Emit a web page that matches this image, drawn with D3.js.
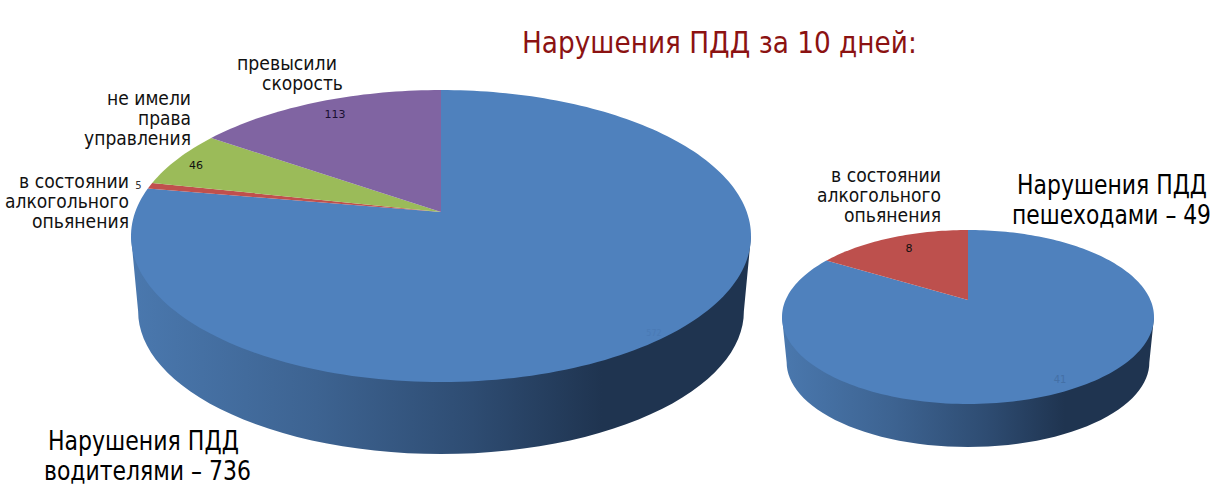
<!DOCTYPE html>
<html><head><meta charset="utf-8">
<script src="https://cdn.jsdelivr.net/npm/d3@7/dist/d3.min.js"></script>
<style>html,body{margin:0;background:#fff}svg{display:block}text{font-family:"DejaVu Sans",sans-serif}</style>
</head><body><svg id="c" width="1230" height="498"></svg>
<script>
const driverCategories=["водители прочие","в состоянии алкогольного опьянения","не имели права управления","превысили скорость"];
const driverValues=[572,5,46,113];
const pedestrianCategories=["пешеходы прочие","в состоянии алкогольного опьянения"];
const pedestrianValues=[41,8];
const sliceColors=["#4f81bd","#c0504d","#9bbb59","#8064a2"];
const pedestrianColors=["#4f81bd","#bd504d"];

const svg=d3.select("#c");
const defs=svg.append("defs");
const line=d3.line();

function drawPie(o){
  const k=(o.bottom-o.top-2*(o.apexY-o.top))/(o.bottom-o.top);
  const S=(o.apexY-o.top)*(1+k), R=o.halfW*Math.sqrt(1-k*k);
  const project=a=>{
    const u=Math.sin(a),v=Math.cos(a),w=1+k*v;
    return [o.cx+R*u/w, o.apexY-S*v/w];
  };
  const midY=o.apexY+S*k/(1-k*k);
  const widest=Math.acos(-k);
  const f=o.sideScale;
  const shift=o.sideBottom-(midY+f*(o.bottom-midY));
  const toBase=([x,y])=>[o.cx+f*(x-o.cx), midY+f*(y-midY)+shift];
  const sweep=d3.range(0,61).map(i=>widest+(2*Math.PI-2*widest)*i/60);
  const pts=[project(widest),...sweep.map(a=>toBase(project(a))),project(-widest)];
  const id="g"+o.id;
  const g=defs.append("linearGradient").attr("id",id).attr("gradientUnits","userSpaceOnUse")
    .attr("x1",o.cx-o.halfW).attr("x2",o.cx+o.halfW).attr("y1",0).attr("y2",0);
  [[0,"#4a78ae"],[0.3,"#3d6391"],[0.55,"#2e4c72"],[0.76,"#1f3450"],[1,"#1f3450"]]
    .forEach(([p,c])=>g.append("stop").attr("offset",p).attr("stop-color",c));
  svg.append("path").attr("d",line(pts)+"Z").attr("fill",`url(#${id})`);
  const pie=d3.pie().sort(null).value(d=>d);
  pie(o.values).forEach((s,i)=>{
    const n=Math.max(2,Math.ceil((s.endAngle-s.startAngle)*40));
    const rim=d3.range(n+1).map(j=>project(s.startAngle+(s.endAngle-s.startAngle)*j/n));
    svg.append("path").attr("d",line([[o.cx,o.apexY],...rim])+"Z").attr("fill",o.colors[i]);
  });
}
const T=(s,x,y,size,anchor,fill,len)=>{
  const t=svg.append("text").attr("font-size",size).attr("text-anchor",anchor).attr("fill",fill||"#000").text(s);
  const sx=len?len/t.node().getComputedTextLength():1;
  t.attr("transform",`translate(${x},${y}) scale(${sx},1)`);
  return t;
};

drawPie({id:"a",cx:441,apexY:212,top:90,bottom:382,halfW:310,sideScale:.977,sideBottom:454,values:driverValues,colors:sliceColors});
drawPie({id:"b",cx:968,apexY:300,top:230,bottom:404,halfW:186,sideScale:.975,sideBottom:447,values:pedestrianValues,colors:pedestrianColors});

T("Нарушения ПДД за 10 дней:",522,53,31,"start","#8b1212",395);
T("превысили",237,70,19,"start","#111",100);
T("скорость",262,90,19,"start","#111",81);
T("не имели",191,105,19,"end","#111",84);
T("права",191,125,19,"end","#111",53);
T("управления",191,145,19,"end","#111",107);
T("в состоянии",129,188,19,"end","#111",110);
T("алкогольного",129,208,19,"end","#111",124);
T("опьянения",129,228,19,"end","#111",97);
T("в состоянии",941,182,19,"end","#111",110);
T("алкогольного",941,202,19,"end","#111",124);
T("опьянения",941,222,19,"end","#111",97);
T("Нарушения ПДД",1207,194,26,"end","#000",190);
T("пешеходами – 49",1211,224,26,"end","#000",199);
T("Нарушения ПДД",48,450,26,"start","#000",191);
T("водителями – 736",44,480,26,"start","#000",207);
T(driverValues[3],335,118,11,"middle","#1a1030");
T(driverValues[2],196,169,11,"middle","#111");
T(driverValues[1],138.5,189,10,"middle","#333");
T(pedestrianValues[1],909,252,11,"middle","#111");
T(pedestrianValues[0],1060,383,10,"middle","#4470a6");
T(driverValues[0],654,336,8,"middle","#4a7ab5");
</script></body></html>
